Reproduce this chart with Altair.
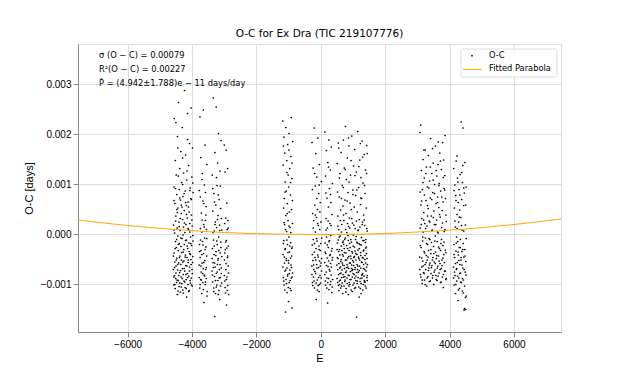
import altair as alt
import pandas as pd

# ---- data (E, O-C in days), lists per observing block ----
S1 = [(-4578,-0.00071),(-4572,0.00018),(-4567,-0.00102),(-4561,0.00094),(-4556,-0.00038),(-4550,0.00231),(-4545,-0.00083),(-4539,0.00002),(-4534,-0.00056),(-4528,0.00061),
(-4523,-0.00109),(-4517,0.00147),(-4512,-0.00015),(-4506,-0.00089),(-4501,0.00036),(-4495,-0.00064),(-4490,0.00118),(-4484,-0.00027),(-4479,-0.00097),(-4473,0.00079),
(-4468,-0.00048),(-4462,0.00012),(-4457,-0.00121),(-4451,0.00195),(-4446,-0.00072),(-4440,-0.00004),(-4435,0.00052),(-4429,-0.00093),(-4424,-0.00033),(-4418,0.00263),
(-4413,-0.00058),(-4407,0.00024),(-4402,-0.00105),(-4396,0.00089),(-4391,-0.00019),(-4385,-0.00077),(-4380,0.00131),(-4374,-0.00044),(-4369,0.00007),(-4363,-0.00116),
(-4358,0.00068),(-4352,-0.00061),(-4347,0.00165),(-4341,-0.00025),(-4336,-0.00086),(-4330,0.00041),(-4325,-0.00052),(-4319,0.00103),(-4314,-0.00099),(-4308,-0.00009),
(-4303,0.00213),(-4297,-0.00069),(-4292,0.00029),(-4286,-0.00112),(-4281,0.00075),(-4275,-0.00036),(-4270,-0.00081),(-4264,0.00014),(-4259,0.00122),(-4253,-0.00054),
(-4248,-0.00094),(-4242,0.00047),(-4237,-0.00021),(-4231,0.00287),(-4226,-0.00074),(-4220,0.00003),(-4215,-0.00107),(-4209,0.00086),(-4204,-0.00042),(-4198,0.00158),
(-4193,-0.00063),(-4187,0.00019),(-4182,-0.00091),(-4176,0.00057),(-4171,-0.00012),(-4165,-0.00126),(-4160,0.00108),(-4154,-0.00047),(-4149,0.00032),(-4143,-0.00079),
(-4138,0.00241),(-4132,-0.00029),(-4127,-0.00101),(-4121,0.00064),(-4116,-0.00057),(-4110,0.00009),(-4105,0.00137),(-4099,-0.00084),(-4094,-0.00018),(-4088,0.00044),
(-4083,-0.00113),(-4077,0.00181),(-4072,-0.00066),(-4066,0.00021),(-4061,-0.00039),(-4055,0.00092),(-4050,-0.00098),(-4044,-0.00006),(-4039,0.00071),(-4033,-0.00051),
(-4028,0.00252),(-4022,-0.00088),(-4017,0.00038),(-4011,-0.00023),(-4006,0.00114),(-4000,-0.00071),(-3995,0.00016),(-3989,-0.00104),(-3984,0.00172),(-3978,-0.00045),
(-3973,-0.00003),(-3967,0.00083)]
S1b = [(-4575,-0.00044),(-4563,-0.00086),(-4553,0.00008),(-4542,-0.00067),(-4531,-0.00101),(-4520,-0.00029),(-4509,0.00026),(-4498,-0.00078),(-4487,-0.00052),(-4476,-0.00011),
(-4465,-0.00092),(-4454,0.00043),(-4443,-0.00061),(-4432,-0.00114),(-4421,-0.00021),(-4410,-0.00083),(-4399,0.00015),(-4388,-0.00047),(-4377,-0.00098),(-4366,0.00031),
(-4355,-0.00073),(-4344,-0.00008),(-4333,-0.00106),(-4322,-0.00037),(-4311,0.00054),(-4300,-0.00089),(-4289,-0.00056),(-4278,-0.00002),(-4267,-0.00118),(-4256,-0.00031),
(-4245,-0.00069),(-4234,0.00022),(-4223,-0.00096),(-4212,-0.00046),(-4201,-0.00013),(-4190,-0.00081),(-4179,-0.00109),(-4168,0.00039),(-4157,-0.00064),(-4146,-0.00024),
(-4135,-0.00087),(-4124,0.00011),(-4113,-0.00052),(-4102,-0.00115),(-4091,-0.00035),(-4080,-0.00074),(-4069,0.00004),(-4058,-0.00093),(-4047,-0.00041),(-4036,-0.00019),
(-4025,-0.00061),(-4014,-0.00102),(-4003,0.00028),(-3992,-0.00079),(-3981,-0.00057),(-3970,-0.00014),
(-4560,0.00067),(-4515,0.00091),(-4470,0.00049),(-4425,0.00116),(-4380,0.00072),(-4335,0.00058),(-4290,0.00099),(-4245,0.00081),(-4200,0.00063),(-4155,0.00126),
(-4110,0.00054),(-4065,0.00087),(-4020,0.00069),(-3975,0.00102),(-4440,0.00172),(-4290,0.00152),(-4140,0.00189),(-4500,0.00223)]

S2 = [(-3778,-0.00062),(-3771,0.00087),(-3765,-0.00021),(-3758,-0.00108),(-3752,0.00234),(-3745,-0.00047),(-3739,0.00011),(-3732,-0.00091),(-3726,0.00153),(-3719,-0.00033),
(-3713,-0.00076),(-3706,0.00042),(-3700,-0.00119),(-3693,0.00004),(-3687,-0.00058),(-3680,0.00121),(-3674,-0.00015),(-3667,-0.00097),(-3661,0.00066),(-3654,-0.00069),
(-3648,0.00248),(-3641,-0.00039),(-3635,0.00019),(-3628,-0.00137),(-3622,-0.00082),(-3615,0.00098),(-3609,-0.00008),(-3602,-0.00053),(-3596,0.00178),(-3589,-0.00101),
(-3583,0.00027),(-3576,-0.00071),(-3570,-0.00026),(-3563,0.00055),(-3557,-0.00089),(-3550,0.00009),(-3544,-0.00044),(-3537,0.00139),(-3531,-0.00115)]
S2b = [(-3775,-0.00087),(-3762,-0.00035),(-3749,-0.00101),(-3736,-0.00012),(-3723,-0.00064),(-3710,-0.00092),(-3697,-0.00041),(-3684,0.00028),(-3671,-0.00079),(-3658,-0.00022),
(-3645,-0.00111),(-3632,-0.00057),(-3619,0.00014),(-3606,-0.00084),(-3593,-0.00031),(-3580,-0.00096),(-3567,0.00038),(-3554,-0.00067),(-3541,-0.00009),(-3534,-0.00124),
(-3740,0.00074),(-3690,0.00109),(-3630,0.00061),(-3580,0.00083)]

S3 = [(-3378,-0.00074),(-3372,0.00118),(-3365,-0.00029),(-3359,-0.00096),(-3352,0.00046),(-3346,-0.00057),(-3339,0.00272),(-3333,-0.00012),(-3326,-0.00108),(-3320,0.00081),
(-3313,-0.00041),(-3307,0.00006),(-3300,-0.00085),(-3294,-0.00165),(-3287,0.00163),(-3281,-0.00066),(-3274,0.00024),(-3268,-0.00119),(-3261,0.00058),(-3255,-0.00035),
(-3248,0.00254),(-3242,-0.00079),(-3235,0.00013),(-3229,-0.00102),(-3222,0.00097),(-3216,-0.00021),(-3209,-0.00061),(-3203,0.00142),(-3196,-0.00093),(-3190,0.00037),
(-3183,-0.00049),(-3177,0.00201),(-3170,-0.00006),(-3164,-0.00113),(-3157,0.00069),(-3151,-0.00071),(-3144,0.00018),(-3138,-0.00131),(-3131,0.00126),(-3125,-0.00038),
(-3118,-0.00087),(-3112,0.00051),(-3105,-0.00016),(-3099,0.00187),(-3092,-0.00068),(-3086,0.00031),(-3079,-0.00098),(-3073,0.00008)]
S3b = [(-3375,-0.00049),(-3362,-0.00082),(-3349,0.00003),(-3336,-0.00067),(-3323,-0.00115),(-3310,-0.00024),(-3297,-0.00058),(-3284,0.00019),(-3271,-0.00093),(-3258,-0.00043),
(-3245,-0.00106),(-3232,-0.00014),(-3219,-0.00076),(-3206,0.00029),(-3193,-0.00052),(-3180,-0.00121),(-3167,-0.00033),(-3154,-0.00088),(-3141,0.00007),(-3128,-0.00061),
(-3115,-0.00104),(-3102,-0.00027),(-3089,-0.00079),(-3076,-0.00045),
(-3355,0.00091),(-3300,0.00064),(-3240,0.00113),(-3185,0.00078),(-3120,0.00096)]

S4 = [(-2998,0.00178),(-2992,-0.00052),(-2985,0.00021),(-2979,-0.00094),(-2972,0.00124),(-2966,-0.00031),(-2959,-0.00118),(-2953,0.00032),(-2946,-0.00071),(-2940,0.00168),
(-2933,-0.00013),(-2927,-0.00142),(-2920,0.00062),(-2914,-0.00086),(-2907,0.00009),(-2901,-0.00047),(-2894,0.00131),(-2888,-0.00103),(-2881,0.00027),(-2875,-0.00064),
(-2868,-0.00024),(-2862,-0.00121),
(-2995,-0.00083),(-2982,-0.00038),(-2969,-0.00107),(-2956,-0.00016),(-2943,-0.00059),(-2930,-0.00091),(-2917,-0.00028),(-2904,-0.00113),(-2891,-0.00044),(-2878,0.00012),(-2865,-0.00078)]

S5 = [(-1178,0.00226),(-1172,-0.00041),(-1167,0.00138),(-1161,-0.00087),(-1156,0.00052),(-1150,-0.00013),(-1145,0.00194),(-1139,-0.00102),(-1134,0.00071),(-1128,-0.00058),
(-1123,0.00019),(-1117,0.00162),(-1112,-0.00074),(-1106,0.00104),(-1101,-0.00029),(-1095,-0.00156),(-1090,0.00037),(-1084,0.00213),(-1079,-0.00091),(-1073,0.00086),
(-1068,-0.00049),(-1062,0.00005),(-1057,0.00147),(-1051,-0.00068),(-1046,-0.00117),(-1040,0.00061),(-1035,-0.00021),(-1029,0.00179),(-1024,-0.00081),(-1018,0.00027),
(-1013,0.00118),(-1007,-0.00053),(-1002,-0.00135),(-996,0.00094),(-991,-0.00006),(-985,0.00201),(-980,-0.00097),(-974,0.00044),(-969,-0.00036),(-963,0.00131),
(-958,-0.00072),(-952,0.00013),(-947,-0.00109),(-941,0.00078),(-936,-0.00017),(-930,0.00155),(-925,-0.00062),(-919,0.00233),(-914,-0.00088),(-908,0.00049),
(-903,-0.00044),(-897,0.00111),(-892,-0.00148),(-886,-0.00026),(-881,0.00067),(-875,-0.00078),(-870,0.00185)]
S5b = [(-1175,-0.00066),(-1163,-0.00019),(-1152,-0.00094),(-1141,0.00023),(-1130,-0.00046),(-1119,-0.00112),(-1108,-0.00031),(-1097,0.00009),(-1086,-0.00072),(-1075,-0.00053),
(-1064,-0.00099),(-1053,-0.00012),(-1042,0.00041),(-1031,-0.00084),(-1020,-0.00037),(-1009,-0.00107),(-998,-0.00058),(-987,0.00016),(-976,-0.00079),(-965,-0.00024),
(-954,-0.00093),(-943,-0.00048),(-932,0.00003),(-921,-0.00113),(-910,-0.00067),(-899,-0.00029),(-888,-0.00086),(-877,0.00021),
(-1160,0.00176),(-1110,0.00084),(-1050,0.00123),(-990,0.00168),(-940,0.00103),(-895,0.00142)]

S6 = [(-278,-0.00064),(-272,0.00183),(-265,-0.00022),(-259,-0.00097),(-252,0.00041),(-246,-0.00053),(-239,0.00132),(-233,-0.00011),(-226,-0.00086),(-220,0.00027),
(-213,-0.00071),(-207,0.00212),(-200,-0.00036),(-194,-0.00108),(-187,0.00058),(-181,-0.00047),(-174,0.00096),(-168,0.00004),(-161,-0.00079),(-155,0.00161),
(-148,-0.00029),(-142,-0.00131),(-135,0.00033),(-129,-0.00061),(-122,0.00114),(-116,-0.00014),(-109,-0.00092),(-103,0.00049),(-96,-0.00042),(-90,0.00192),
(-83,-0.00103),(-77,0.00017),(-70,-0.00067),(-64,0.00081),(-57,-0.00024),(-51,-0.00115),(-44,0.00139),(-38,-0.00054),(-31,0.00009),(-25,-0.00083),
(-18,0.00063),(-12,-0.00033),(-5,-0.00098),(1,0.00024),(8,-0.00058),(14,0.00105),(21,-0.00074),(28,-0.00008)]
S6b = [(-275,-0.00081),(-262,-0.00041),(-249,-0.00103),(-236,0.00012),(-223,-0.00062),(-210,-0.00094),(-197,-0.00019),(-184,-0.00075),(-171,0.00038),(-158,-0.00052),
(-145,-0.00098),(-132,-0.00009),(-119,-0.00068),(-106,-0.00112),(-93,0.00021),(-80,-0.00046),(-67,-0.00087),(-54,-0.00031),(-41,-0.00101),(-28,0.00044),
(-15,-0.00064),(-2,-0.00019),(11,-0.00088),(24,-0.00049),
(-260,0.00089),(-190,0.00121),(-120,0.00071),(-50,0.00098)]

S7 = [(122,-0.00057),(128,0.00204),(135,-0.00018),(141,-0.00094),(148,0.00116),(154,-0.00039),(161,0.00031),(167,-0.00076),(174,0.00167),(180,-0.00006),
(187,-0.00108),(193,0.00072),(200,-0.00048),(206,0.00012),(213,-0.00138),(219,0.00143),(226,-0.00065),(232,-0.00027),(239,0.00054),(245,-0.00089),
(252,0.00188),(258,-0.00015),(265,-0.00071),(271,0.00091),(278,-0.00043),(284,0.00021),(291,-0.00101),(297,0.00128),(304,-0.00059),(310,-0.00003),
(317,0.00063),(323,-0.00082),(330,0.00174),(336,-0.00034),(343,-0.00117),(349,0.00039),(356,-0.00052),(362,0.00101),(368,-0.00091)]
S7b = [(125,-0.00081),(138,-0.00036),(151,-0.00102),(164,0.00008),(177,-0.00063),(190,-0.00088),(203,-0.00022),(216,-0.00097),(229,0.00026),(242,-0.00054),
(255,-0.00111),(268,-0.00013),(281,-0.00074),(294,-0.00041),(307,-0.00095),(320,0.00017),(333,-0.00066),(346,-0.00029),(359,-0.00106),(365,-0.00047),
(160,0.00082),(240,0.00134),(300,0.00079)]

S8 = [(502,-0.00062),(509,0.00141),(516,-0.00018),(523,-0.00097),(530,0.00036),(537,-0.00049),(545,0.00182),(552,-0.00081),(559,0.00009),(566,-0.00113),
(573,0.00074),(580,-0.00031),(588,-0.00068),(595,0.00121),(602,-0.00004),(609,-0.00092),(616,0.00048),(623,-0.00055),(631,0.00163),(638,-0.00024),
(645,-0.00104),(652,0.00019),(659,-0.00072),(666,0.00097),(674,-0.00041),(681,-0.00119),(688,0.00056),(695,-0.00014),(702,0.00188),(709,-0.00086),
(717,0.00027),(724,-0.00063),(731,0.00132),(738,-0.00037),(745,-0.00095),(752,0.00068),(760,-0.00008),(767,0.00215),(774,-0.00077),(781,0.00041),
(788,-0.00109),(795,0.00109),(803,-0.00052),(810,0.00003),(817,-0.00088),(824,0.00152),(831,-0.00029),(838,-0.00066),(846,0.00083),(853,-0.00121),
(860,0.00015),(867,-0.00045),(874,0.00176),(881,-0.00083),(889,0.00032),(896,-0.00019),(903,-0.00101),(910,0.00062),(917,-0.00058),(924,0.00118),
(932,-0.00011),(939,-0.00091),(946,0.00049),(953,-0.00069),(960,0.00196),(967,-0.00035),(975,-0.00115),(982,0.00022),(989,-0.00053),(996,0.00088),
(1003,-0.00079),(1010,-0.00002),(1018,0.00136),(1025,-0.00047),(1032,-0.00098),(1039,0.00054),(1046,-0.00026),(1053,0.00169),(1061,-0.00071),(1068,0.00011),
(1075,-0.00107),(1082,0.00077),(1089,-0.00039),(1096,-0.00084),(1104,0.00124),(1110,-0.00166),(1118,-0.00016),(1125,-0.00061),(1132,0.00044),(1139,-0.00094),
(1147,0.00205),(1154,-0.00032),(1161,0.00007),(1168,-0.00076),(1175,0.00093),(1182,-0.00049),(1190,-0.00126),(1197,0.00029),(1204,-0.00064),(1211,0.00148),
(1218,-0.00021),(1225,-0.00089),(1233,0.00059),(1240,-0.00043),(1247,0.00113),(1254,-0.00099),(1261,-0.00007),(1268,0.00071),(1276,-0.00057),(1283,0.00186),
(1290,-0.00081),(1297,0.00024),(1304,-0.00112),(1311,0.00102),(1319,-0.00034),(1326,-0.00069),(1333,0.00038),(1340,-0.00013),(1347,0.00159),(1354,-0.00093),
(1362,0.00017),(1369,-0.00051),(1376,0.00081),(1383,-0.00104),(1390,0.00128),(1397,-0.00028),(1405,-0.00074),(1412,0.00052),(1419,-0.00039),(1426,0.00177),
(1433,-0.00087),(1440,0.00006),(1447,-0.00061),
(506,-0.00031),(541,-0.00012),(584,-0.00101),(627,-0.00078),(670,-0.00058),(713,-0.00021),(756,-0.00092),(799,-0.00067),(842,-0.00003),(885,-0.00097),
(928,-0.00044),(971,-0.00073),(1014,-0.00056),(1057,-0.00088),(1100,-0.00005),(1143,-0.00071),(1186,-0.00019),(1229,-0.00109),(1272,-0.00082),(1315,-0.00048),
(1358,-0.00096),(1401,-0.00011),(1444,-0.00083)]
S8b = [(505,-0.00089),(514,-0.00047),(527,-0.00071),(534,0.00016),(548,-0.00103),(556,-0.00035),(563,-0.00059),(570,-0.00006),(577,-0.00094),(591,-0.00042),
(598,-0.00079),(606,0.00027),(613,-0.00066),(620,-0.00108),(634,-0.00051),(641,0.00004),(649,-0.00087),(656,-0.00033),(663,-0.00098),(677,-0.00062),
(684,-0.00017),(692,-0.00081),(699,-0.00044),(706,0.00038),(720,-0.00104),(727,-0.00029),(735,-0.00069),(742,-0.00011),(749,-0.00085),(763,-0.00052),
(770,0.00009),(778,-0.00116),(785,-0.00038),(792,-0.00074),(806,-0.00023),(813,-0.00061),(821,-0.00099),(828,0.00021),(835,-0.00048),(849,-0.00082),
(856,-0.00013),(864,-0.00069),(871,-0.00104),(878,-0.00033),(892,-0.00058),(899,0.00012),(907,-0.00091),(914,-0.00027),(921,-0.00075),(935,-0.00049),
(942,-0.00112),(950,-0.00016),(957,-0.00062),(964,0.00031),(978,-0.00086),(985,-0.00038),(993,-0.00071),(1000,-0.00102),(1007,-0.00024),(1021,-0.00063),
(1028,0.00018),(1036,-0.00081),(1043,-0.00045),(1050,-0.00109),(1064,-0.00034),(1071,-0.00067),(1079,-0.00011),(1086,-0.00093),(1093,-0.00052),(1107,0.00026),
(1114,-0.00077),(1122,-0.00041),(1129,-0.00099),(1136,-0.00018),(1150,-0.00064),(1157,-0.00087),(1165,0.00008),(1172,-0.00046),(1179,-0.00106),(1193,-0.00029),
(1200,-0.00073),(1208,-0.00052),(1215,0.00014),(1222,-0.00095),(1236,-0.00037),(1243,-0.00068),(1251,-0.00119),(1258,-0.00022),(1265,-0.00056),(1279,-0.00088),
(1286,0.00019),(1294,-0.00047),(1301,-0.00079),(1308,-0.00013),(1322,-0.00101),(1329,-0.00061),(1337,-0.00032),(1344,-0.00084),(1351,0.00028),(1365,-0.00071),
(1372,-0.00043),(1380,-0.00096),(1387,-0.00017),(1394,-0.00058),(1408,-0.00108),(1415,-0.00026),(1423,-0.00066),(1430,0.00011),(1437,-0.00049),(1443,-0.00093),
(520,0.00084),(580,0.00112),(640,0.00071),(700,0.00093),(760,0.00129),(820,0.00066),(880,0.00104),(940,0.00147),(1000,0.00079),(1060,0.00117),
(1120,0.00088),(1180,0.00135),(1240,0.00072),(1300,0.00154),(1360,0.00097),(1420,0.00121),(560,0.00172),(860,0.00192),(1230,0.00181),(1440,0.00161)]

S9 = [(3072,-0.00046),(3079,0.00203),(3087,0.00012),(3094,-0.00081),(3102,0.00218),(3109,0.00058),(3117,-0.00027),(3124,0.00127),(3132,-0.00066),(3139,0.00031),
(3147,-0.00099),(3154,0.00089),(3162,-0.00014),(3169,-0.00054),(3177,0.00149),(3184,0.00004),(3192,-0.00077),(3199,0.00043),(3207,-0.00035),(3214,0.00112),
(3222,-0.00092),(3229,0.00021),(3237,-0.00061),(3244,0.00168),(3252,-0.00008),(3259,-0.00071),(3267,0.00067),(3274,-0.00043),(3282,0.00134),(3289,-0.00104),
(3297,0.00016),(3304,-0.00052),(3312,0.00094),(3319,-0.00021),(3327,-0.00085),(3334,0.00051),(3342,0.00157),(3349,-0.00033),(3357,-0.00068),(3364,0.00026),
(3372,-0.00095),(3379,0.00106),(3387,-0.00011),(3394,-0.00058),(3402,0.00072),(3409,0.00191),(3417,-0.00039),(3424,-0.00079),(3432,0.00036),(3439,-0.00017),
(3447,0.00121),(3454,-0.00063),(3462,0.00008),(3469,-0.00088),(3477,0.00083),(3484,-0.00047),(3492,0.00142),(3499,-0.00025),(3507,-0.00101),(3514,0.00046),
(3522,-0.00056),(3529,0.00019),(3537,0.00099),(3544,-0.00072),(3552,-0.00004),(3559,0.00176),(3567,-0.00036),(3574,-0.00083),(3582,0.00061),(3589,-0.00049),
(3597,0.00028),(3604,0.00116),(3612,-0.00093),(3619,-0.00015),(3627,0.00074),(3634,-0.00064),(3642,0.00139),(3649,0.00002),(3657,-0.00044),(3664,0.00053),
(3672,-0.00078),(3679,0.00101),(3687,-0.00029),(3694,0.00162),(3702,-0.00059),(3709,0.00034),(3717,-0.00097),(3724,0.00086),(3732,-0.00019),(3739,-0.00069),
(3747,0.00129),(3754,0.00013),(3762,-0.00052),(3769,0.00047),(3777,-0.00086),(3784,0.00183),(3792,-0.00023),(3799,0.00064),(3807,-0.00107),(3814,0.00148),
(3822,-0.00041),(3829,0.00091),(3837,0.00005),(3844,-0.00074),(3852,0.00117),(3859,0.00197),(3867,-0.00032),(3874,0.00071),(3882,-0.00091),(3889,0.00038),
(3897,0.00025)]
S9b = [(3075,-0.00071),(3090,-0.00023),(3105,-0.00086),(3120,0.00019),(3135,-0.00048),(3150,-0.00092),(3165,-0.00006),(3180,-0.00064),(3195,0.00028),(3210,-0.00079),
(3225,-0.00038),(3240,-0.00101),(3255,0.00011),(3270,-0.00057),(3285,-0.00019),(3300,-0.00088),(3315,0.00036),(3330,-0.00046),(3345,-0.00073),(3360,-0.00009),
(3375,-0.00062),(3390,0.00024),(3405,-0.00094),(3420,-0.00031),(3435,-0.00067),(3450,0.00007),(3465,-0.00052),(3480,-0.00083),(3495,0.00033),(3510,-0.00039),
(3525,-0.00076),(3540,-0.00014),(3555,-0.00059),(3570,0.00019),(3585,-0.00091),(3600,-0.00043),(3615,-0.00068),(3630,0.00004),(3645,-0.00084),(3660,-0.00026),
(3675,-0.00054),(3690,0.00039),(3705,-0.00071),(3720,-0.00033),(3735,-0.00096),(3750,-0.00011),(3765,-0.00063),(3780,0.00022),(3795,-0.00048),(3810,-0.00081),
(3825,-0.00016),(3840,-0.00057),(3855,0.00009),(3870,-0.00074),(3885,-0.00037),(3895,-0.00089),
(3085,0.00084),(3130,0.00066),(3175,0.00103),(3220,0.00078),(3265,0.00121),(3310,0.00057),(3355,0.00092),(3400,0.00134),(3445,0.00069),(3490,0.00108),
(3535,0.00081),(3580,0.00127),(3625,0.00063),(3670,0.00097),(3715,0.00146),(3760,0.00074),(3805,0.00113),(3850,0.00088),(3200,0.00168),(3470,0.00171),(3650,0.00184)]

S10 = [(4122,-0.00066),(4129,0.00131),(4136,-0.00021),(4143,-0.00102),(4149,0.00052),(4156,-0.00047),(4163,0.00098),(4170,-0.00083),(4177,0.00014),(4184,-0.00119),
(4190,0.00077),(4197,-0.00034),(4204,0.00146),(4211,-0.00071),(4218,-0.00006),(4225,-0.00094),(4231,0.00039),(4238,-0.00057),(4245,0.00112),(4252,-0.00015),
(4259,-0.00133),(4266,0.00063),(4272,-0.00042),(4279,0.00024),(4286,-0.00088),(4293,0.00089),(4300,-0.00027),(4307,-0.00109),(4313,0.00048),(4320,-0.00061),
(4327,0.00119),(4334,-0.00011),(4341,-0.00078),(4348,0.00033),(4354,-0.00052),(4361,0.00224),(4368,-0.00097),(4375,0.00069),(4382,-0.00035),(4389,0.00008),
(4395,-0.00114),(4402,0.00103),(4409,-0.00068),(4416,0.00212),(4423,-0.00019),(4430,-0.00092),(4436,0.00057),(4443,-0.00046),(4450,-0.00152),(4457,0.00082),
(4464,-0.00149),(4471,-0.00031),(4477,0.00143),(4484,-0.00076),(4491,0.00018),(4498,-0.00151),(4505,-0.00055),(4512,0.00094),(4518,-0.00124)]
S10b = [(4125,-0.00088),(4139,-0.00041),(4152,-0.00076),(4166,0.00026),(4180,-0.00059),(4193,-0.00101),(4207,-0.00018),(4221,-0.00069),(4234,0.00011),(4248,-0.00084),
(4262,-0.00036),(4275,-0.00112),(4289,-0.00053),(4303,0.00034),(4316,-0.00079),(4330,-0.00027),(4344,-0.00096),(4357,-0.00047),(4371,0.00017),(4385,-0.00062),
(4398,-0.00089),(4412,-0.00031),(4426,-0.00118),(4439,0.00006),(4453,-0.00071),(4467,-0.00104),(4480,-0.00044),(4494,-0.00127),(4508,-0.00082),(4515,-0.00009),
(4140,0.00087),(4200,0.00067),(4260,0.00104),(4320,0.00078),(4380,0.00123),(4440,0.00092),(4500,0.00058),(4230,0.00156),(4410,0.00137)]

# fitted parabola
PAR_E = [-7540, -6000, -4500, -3000, -1500, 0, 1500, 3000, 4500, 6000, 7460]
PAR_OC = [0.00028, 0.00017, 0.00009, 0.00003, 0.0, -0.00001, 0.0, 0.00004, 0.00010, 0.00019, 0.00030]

X_TICKS = [-6000, -4000, -2000, 0, 2000, 4000, 6000]
Y_TICKS = [-0.001, 0.0, 0.001, 0.002, 0.003]

TITLE = "O-C for Ex Dra (TIC 219107776)"
STATS = ["σ (O − C) = 0.00079", "R²(O − C) = 0.00227", "Ṗ = (4.942±1.788)e − 11 days/day"]
LEGEND = ["O-C", "Fitted Parabola"]

FONT = "DejaVu Sans"

blocks = (S1, S1b, S2, S2b, S3, S3b, S4, S5, S5b, S6, S6b, S7, S7b, S8, S8b, S9, S9b, S10, S10b)
pts = pd.DataFrame([p for s in blocks for p in s], columns=["E", "OC"])
par = pd.DataFrame({"E": PAR_E, "OC": PAR_OC})

xs = alt.Scale(domain=[-7540, 7460], nice=False, zero=False)
ys = alt.Scale(domain=[-0.00196, 0.0038], nice=False, zero=False)

xax = alt.Axis(values=X_TICKS, title="E", format="d", grid=True, titlePadding=3,
               titleFontWeight=400)
yax = alt.Axis(values=Y_TICKS, title="O-C [days]", format=".3f", grid=True, titlePadding=6,
               titleFontWeight=400)

points = alt.Chart(pts).mark_circle(size=3, color="black", opacity=1).encode(
    x=alt.X("E:Q", scale=xs, axis=xax),
    y=alt.Y("OC:Q", scale=ys, axis=yax),
)

curve = alt.Chart(par).mark_line(color="#FFA500", strokeWidth=1, clip=True,
                                 interpolate="monotone").encode(
    x=alt.X("E:Q", scale=xs),
    y=alt.Y("OC:Q", scale=ys),
)

one = pd.DataFrame({"k": [0]})

stat_layers = []
for i, t in enumerate(STATS):
    stat_layers.append(
        alt.Chart(pd.DataFrame({"t": [t]})).mark_text(
            align="left", baseline="middle", font=FONT, fontSize=8.3, color="black"
        ).encode(text="t:N", x=alt.value(21), y=alt.value(12 + 13.8 * i))
    )

leg_box = alt.Chart(one).mark_rect(
    fill="white", stroke="#d0d0d0", strokeWidth=0.8, cornerRadius=2, opacity=0.9
).encode(x=alt.value(383), x2=alt.value(479), y=alt.value(5), y2=alt.value(33))
leg_dot = alt.Chart(one).mark_circle(size=3, color="black", opacity=1).encode(
    x=alt.value(394), y=alt.value(11.7))
leg_line = alt.Chart(one).mark_rule(color="#FFA500", strokeWidth=1).encode(
    x=alt.value(385), x2=alt.value(404), y=alt.value(25.3))
leg_text = [
    alt.Chart(pd.DataFrame({"t": [LEGEND[i]]})).mark_text(
        align="left", baseline="middle", font=FONT, fontSize=8.3, color="black"
    ).encode(text="t:N", x=alt.value(411), y=alt.value(11.7 + 13.6 * i))
    for i in range(2)
]

chart = alt.layer(points, curve, *stat_layers, leg_box, leg_dot, leg_line, *leg_text).properties(
    width=483, height=288,
    title=alt.TitleParams(TITLE, font=FONT, fontSize=10.5, fontWeight="normal", color="black", offset=5),
    autosize=alt.AutoSizeParams(type="none"),
    padding={"left": 70, "top": 36, "right": 50, "bottom": 30},
).configure_view(stroke="#555555", strokeWidth=1).configure_axis(
    labelFont=FONT, titleFont=FONT, labelFontSize=8.3, titleFontSize=8.4,
    labelColor="#222222", titleColor="#222222", titleFontWeight=400,
    tickColor="#333333", tickSize=3.5, tickWidth=0.8, labelPadding=2,
    domain=False, gridColor="#e4e4e4", gridWidth=0.8,
).configure(background="white")

chart.save("out.html", embed_options={"renderer": "svg", "actions": False})
